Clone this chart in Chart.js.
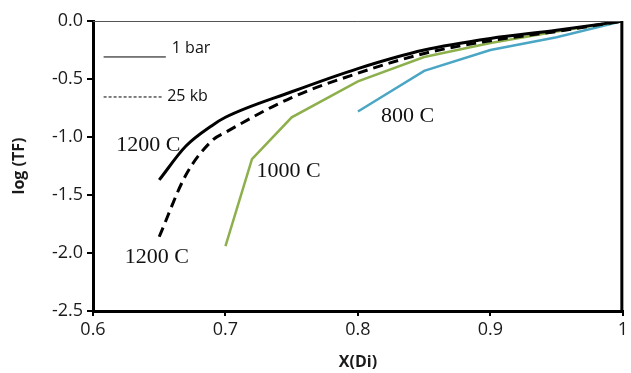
<!DOCTYPE html>
<html>
<head>
<meta charset="utf-8">
<script src="https://cdn.jsdelivr.net/npm/chart.js@4/dist/chart.umd.min.js"></script>
<style>
  html, body { margin: 0; padding: 0; background: #fff; }
  #wrap { width: 631px; height: 373px; }
</style>
</head>
<body>
<div id="wrap"><canvas id="tfChart" width="631" height="373"></canvas></div>
<script>
// data
const x1200bar = [0.65, 0.67, 0.69, 0.7, 0.75, 0.8, 0.85, 0.9, 0.95, 1.0];
const y1200bar = [-1.37, -1.08, -0.9, -0.83, -0.61, -0.41, -0.25, -0.15, -0.08, 0];
const x1200kb = [0.65, 0.67, 0.69, 0.7, 0.75, 0.8, 0.85, 0.9, 0.95, 1.0];
const y1200kb = [-1.86, -1.33, -1.03, -0.96, -0.66, -0.45, -0.28, -0.17, -0.09, 0];
const x1000 = [0.7, 0.72, 0.75, 0.8, 0.85, 0.9, 0.95, 1.0];
const y1000 = [-1.94, -1.19, -0.83, -0.52, -0.31, -0.19, -0.09, 0];
const x800 = [0.8, 0.85, 0.9, 0.95, 1.0];
const y800 = [-0.78, -0.43, -0.25, -0.14, 0];
const xTicks = [0.6, 0.7, 0.8, 0.9, 1.0];
const yTicks = [0.0, -0.5, -1.0, -1.5, -2.0, -2.5];

function pts(xs, ys) {
  return xs.map((x, i) => ({ x: x, y: ys[i] }));
}

const sansFont = "'Open Sans', sans-serif";
const serifFont = "'Liberation Serif', 'DejaVu Serif', serif";

// frame, in-plot legend and curve labels
const overlayPlugin = {
  id: "overlay",
  afterDraw(chart) {
    const ctx = chart.ctx;
    const a = chart.chartArea;
    const xs = chart.scales.x;
    const ys = chart.scales.y;
    ctx.save();
    // top border (thin) and right border (thick)
    ctx.strokeStyle = "#555";
    ctx.lineWidth = 1;
    ctx.beginPath();
    ctx.moveTo(a.left, a.top + 0.5);
    ctx.lineTo(a.right, a.top + 0.5);
    ctx.stroke();
    ctx.strokeStyle = "#000";
    ctx.lineWidth = 3;
    ctx.beginPath();
    ctx.moveTo(a.right - 1, a.top);
    ctx.lineTo(a.right - 1, a.bottom);
    ctx.stroke();

    // legend lines
    ctx.lineWidth = 1;
    ctx.beginPath();
    ctx.moveTo(xs.getPixelForValue(0.608), ys.getPixelForValue(-0.31));
    ctx.lineTo(xs.getPixelForValue(0.655), ys.getPixelForValue(-0.31));
    ctx.stroke();
    ctx.setLineDash([3, 2]);
    ctx.beginPath();
    ctx.moveTo(xs.getPixelForValue(0.608), ys.getPixelForValue(-0.655));
    ctx.lineTo(xs.getPixelForValue(0.652), ys.getPixelForValue(-0.655));
    ctx.stroke();
    ctx.setLineDash([]);

    ctx.fillStyle = "#111";
    ctx.textAlign = "left";
    ctx.textBaseline = "alphabetic";
    ctx.font = "16px " + sansFont;
    ctx.fillText("1 bar", xs.getPixelForValue(0.6595), ys.getPixelForValue(-0.28));
    ctx.fillText("25 kb", xs.getPixelForValue(0.656), ys.getPixelForValue(-0.69));

    // curve labels
    ctx.font = "22px " + serifFont;
    ctx.fillText("1200 C", xs.getPixelForValue(0.6175), ys.getPixelForValue(-1.12));
    ctx.fillText("1000 C", xs.getPixelForValue(0.7235), ys.getPixelForValue(-1.345));
    ctx.fillText("800 C", xs.getPixelForValue(0.8175), ys.getPixelForValue(-0.87));
    ctx.fillText("1200 C", xs.getPixelForValue(0.624), ys.getPixelForValue(-2.085));
    ctx.restore();
  }
};

function createChart() {
  const ctx = document.getElementById("tfChart").getContext("2d");
  new Chart(ctx, {
    type: "scatter",
    data: {
      datasets: [
        {
          label: "1200 C 1 bar",
          data: pts(x1200bar, y1200bar),
          borderColor: "#000",
          borderWidth: 3,
          showLine: true,
          pointRadius: 0,
          cubicInterpolationMode: "monotone"
        },
        {
          label: "1200 C 25 kb",
          data: pts(x1200kb, y1200kb),
          borderColor: "#000",
          borderWidth: 3,
          borderDash: [10, 6],
          showLine: true,
          pointRadius: 0,
          cubicInterpolationMode: "monotone"
        },
        {
          label: "1000 C",
          data: pts(x1000, y1000),
          borderColor: "#8db04c",
          borderWidth: 2.5,
          showLine: true,
          pointRadius: 0
        },
        {
          label: "800 C",
          data: pts(x800, y800),
          borderColor: "#4aa6c4",
          borderWidth: 2.5,
          showLine: true,
          pointRadius: 0
        }
      ]
    },
    options: {
      responsive: false,
      animation: false,
      layout: { padding: { top: 21, right: 5, left: 0, bottom: 0 } },
      plugins: {
        legend: { display: false },
        tooltip: { enabled: false }
      },
      scales: {
        x: {
          type: "linear",
          min: 0.6,
          max: 1.0,
          afterBuildTicks: (s) => { s.ticks = xTicks.map((v) => ({ value: v })); },
          afterFit: (s) => { s.height = 62; },
          ticks: {
            color: "#1a1a1a",
            font: { family: sansFont, size: 18 },
            padding: 3,
            maxRotation: 0,
            callback: (v) => (v === 1 ? "1" : v.toFixed(1))
          },
          grid: {
            drawOnChartArea: false,
            drawTicks: true,
            tickLength: 5,
            color: "#000",
            lineWidth: 2
          },
          border: { color: "#000", width: 3 },
          title: {
            display: true,
            text: "X(Di)",
            color: "#1a1a1a",
            font: { family: sansFont, size: 16, weight: "bold" },
            padding: { top: 0, bottom: 1 }
          }
        },
        y: {
          type: "linear",
          min: -2.5,
          max: 0,
          afterBuildTicks: (s) => { s.ticks = yTicks.map((v) => ({ value: v })); },
          afterFit: (s) => { s.width = 93; },
          ticks: {
            color: "#1a1a1a",
            font: { family: sansFont, size: 18 },
            padding: 4,
            callback: (v) => v.toFixed(1)
          },
          grid: {
            drawOnChartArea: false,
            drawTicks: true,
            tickLength: 6,
            color: "#000",
            lineWidth: 2
          },
          border: { color: "#000", width: 3 },
          title: {
            display: true,
            text: "log (TF)",
            color: "#1a1a1a",
            font: { family: sansFont, size: 16, weight: "bold" },
            padding: { top: 10, bottom: 0 }
          }
        }
      }
    },
    plugins: [overlayPlugin]
  });
}

createChart();
</script>
</body>
</html>
